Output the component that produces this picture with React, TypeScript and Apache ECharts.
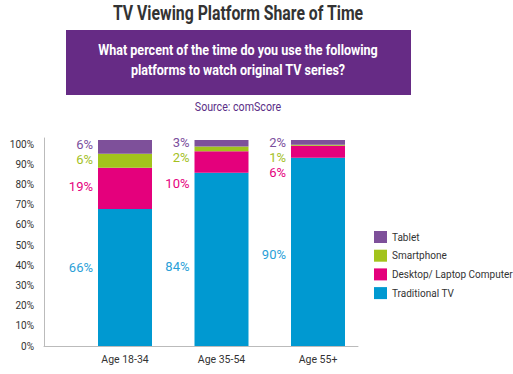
import React, { useEffect, useRef } from "react";
import * as echarts from "echarts";

const categories = ["Age 18-34", "Age 35-54", "Age 55+"];
const seriesNames = ["Traditional TV", "Desktop/ Laptop Computer", "Smartphone", "Tablet"];
// drawn segment heights (percent of axis)
const tvValues = [67.8, 85.8, 93.2];
const desktopValues = [20.5, 10.6, 6.0];
const smartphoneValues = [6.9, 2.4, 0.5];
const tabletValues = [6.8, 3.2, 2.3];
// printed labels
const tvLabels = [66, 84, 90];
const desktopLabels = [19, 10, 6];
const smartphoneLabels = [6, 2, 1];
const tabletLabels = [6, 3, 2];
const yTicks = [0, 10, 20, 30, 40, 50, 60, 70, 80, 90, 100];

const FONT = "Roboto, 'Liberation Sans', sans-serif";

export default function App() {
  const ref = useRef<HTMLDivElement>(null);
  useEffect(() => {
    document.body.style.margin = "0";
    const chart = echarts.init(ref.current!, null, { renderer: "svg" });
    const colors = ["#0099D1", "#E4007C", "#A2C31C", "#7E509A"];
    const labelColors = ["#2a9fd8", "#e5007e", "#a4c11f", "#7b4f9d"];
    const values = [tvValues, desktopValues, smartphoneValues, tabletValues];
    const labels = [tvLabels, desktopLabels, smartphoneLabels, tabletLabels];
    // vertical nudges of the printed labels (px), per series per bar
    const nudges = [
      [-10.5, 6.7, 3],
      [-2, 21, 20.5],
      [-1, 9, 12.3],
      [-2, -1, 0],
    ];
    const series = seriesNames.map((name, si) => ({
      name,
      type: "bar",
      stack: "total",
      xAxisIndex: 1,
      yAxisIndex: 1,
      barWidth: 54,
      itemStyle: { color: colors[si] },
      data: values[si].map((v, i) => ({
        value: v,
        label: { offset: [0, nudges[si][i]] },
      })),
      label: {
        show: true,
        position: "left",
        distance: 5,
        fontFamily: FONT,
        fontSize: 13,
        lineHeight: 13,
        color: labelColors[si],
        formatter: (p: any) => labels[si][p.dataIndex] + "%",
      },
    }));
    chart.setOption({
      animation: false,
      textStyle: { fontFamily: FONT },
      graphic: [
        {
          type: "text",
          x: 238,
          y: 13,
          scaleX: 0.79,
          style: {
            text: "TV Viewing Platform Share of Time",
            font: `bold 20px ${FONT}`,
            fill: "#333",
            align: "center",
            verticalAlign: "middle",
          },
        },
        {
          type: "rect",
          shape: { x: 66, y: 30, width: 345, height: 65 },
          style: { fill: "#662B85" },
        },
        {
          type: "text",
          x: 238,
          y: 50,
          scaleX: 0.81,
          style: {
            text: "What percent of the time do you use the following",
            font: `bold 15.5px ${FONT}`,
            fill: "#fff",
            align: "center",
            verticalAlign: "middle",
          },
        },
        {
          type: "text",
          x: 238,
          y: 70,
          scaleX: 0.81,
          style: {
            text: "platforms to watch original TV series?",
            font: `bold 15.5px ${FONT}`,
            fill: "#fff",
            align: "center",
            verticalAlign: "middle",
          },
        },
        {
          type: "text",
          x: 238,
          y: 107,
          scaleX: 0.82,
          style: {
            text: "Source: comScore",
            font: `13px ${FONT}`,
            fill: "#5b2f87",
            align: "center",
            verticalAlign: "middle",
          },
        },
      ],
      legend: {
        data: ["Tablet", "Smartphone", "Desktop/ Laptop Computer", "Traditional TV"],
        orient: "vertical",
        left: 369,
        top: 226,
        itemWidth: 13,
        itemHeight: 12,
        itemGap: 6.7,
        icon: "rect",
        textStyle: { fontFamily: FONT, fontSize: 10, color: "#333" },
      },
      grid: [
        { left: 44, right: 155, top: 138, bottom: 28 },
        { left: 76.75, width: 289.5, top: 138, bottom: 28 },
      ],
      xAxis: [
        {
          type: "category",
          gridIndex: 0,
          data: categories,
          axisLine: { show: true, lineStyle: { color: "#bbb" } },
          axisTick: { show: false },
          axisLabel: { show: false },
        },
        {
          type: "category",
          gridIndex: 1,
          data: categories,
          axisLine: { show: false },
          axisTick: { show: false },
          axisLabel: { fontFamily: FONT, fontSize: 10.5, color: "#333", margin: 8 },
        },
      ],
      yAxis: [
        {
          type: "value",
          gridIndex: 0,
          min: 0,
          max: 103,
          interval: 10,
          axisLine: { show: true, lineStyle: { color: "#bbb" } },
          axisTick: { show: false },
          splitLine: { show: false },
          axisLabel: {
            fontFamily: FONT,
            fontSize: 10,
            color: "#333",
            margin: 10,
            formatter: (v: number) => (yTicks.includes(v) ? v + "%" : ""),
          },
        },
        {
          type: "value",
          gridIndex: 1,
          min: 0,
          max: 103,
          show: false,
          splitLine: { show: false },
        },
      ],
      series,
    });
    return () => chart.dispose();
  }, []);
  return <div ref={ref} style={{ width: 513, height: 374 }} />;
}
